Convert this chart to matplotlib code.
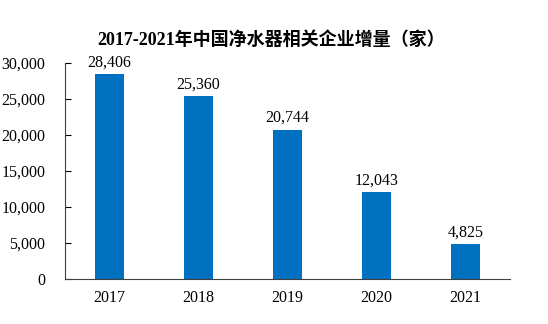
import matplotlib.pyplot as plt
from matplotlib.ticker import FuncFormatter

years = ["2017", "2018", "2019", "2020", "2021"]
counts = [28406, 25360, 20744, 12043, 4825]
title = "2017-2021年中国净水器相关企业增量（家）"

plt.rcParams["font.family"] = ["Liberation Serif", "Noto Sans CJK SC"]

fig = plt.figure(figsize=(5.48, 3.24), dpi=100)
ax = fig.add_axes([0.1186, 0.139, 0.8121, 0.6666])

x = range(len(years))
ax.bar(x, counts, width=0.32, color="#0070C0")
for xi, v in zip(x, counts):
    ax.text(xi, v + 500, f"{v:,}", ha="center", va="bottom", fontsize=11.5)

ax.set_xlim(-0.5, len(years) - 0.5)
ax.set_ylim(0, 30000)
ax.set_yticks(range(0, 30001, 5000))
ax.yaxis.set_major_formatter(FuncFormatter(lambda v, p: f"{int(v):,}"))
ax.set_xticks(list(x))
ax.set_xticklabels(years)
ax.tick_params(axis="y", direction="in", length=4, labelsize=11.5, pad=14)
ax.tick_params(axis="x", length=0, labelsize=11.5, pad=8)
for s in ["top", "right"]:
    ax.spines[s].set_visible(False)
for s in ["left", "bottom"]:
    ax.spines[s].set_color("#404040")

fig.text(0.495, 0.877, title, ha="center", va="center", fontsize=13, fontweight="bold")

fig.savefig("out.png", dpi=100)
